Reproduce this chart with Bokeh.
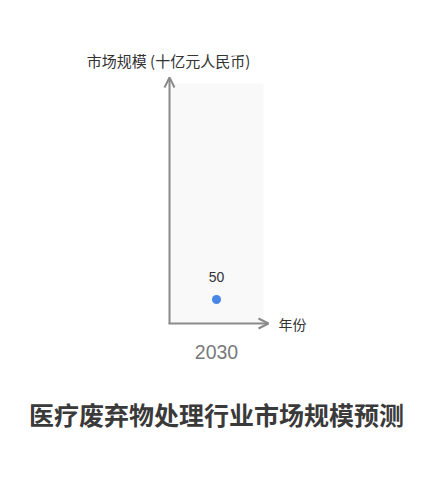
from bokeh.core.properties import value
from bokeh.embed import file_html
from bokeh.models import Arrow, ColumnDataSource, FixedTicker, OpenHead, Title
from bokeh.plotting import figure
from bokeh.resources import INLINE

# data
years = [2030]
market_size = [50]          # 十亿元人民币
year_labels = {2030: "2030"}
y_max = 500

title_text = "医疗废弃物处理行业市场规模预测"
y_title = "市场规模 (十亿元人民币)"
x_title = "年份"

CJK = "Noto Sans CJK SC"
LATIN = "Liberation Sans"
AXIS_COLOR = "#8a8a8a"

x0, x1 = years[0] - 0.5, years[-1] + 0.5
px_x = 94.0 / (x1 - x0)          # pixels per year
px_y = 240.0 / y_max             # pixels per unit

p = figure(width=432, height=480, output_backend="svg", toolbar_location=None,
           x_range=(years[0] - 216 / px_x, years[0] + 216 / px_x),
           y_range=(-17 / px_y, 323 / px_y),
           min_border_left=0, min_border_right=0, min_border_top=0, min_border_bottom=140)
p.outline_line_color = None
p.grid.visible = False
p.yaxis.visible = False
p.background_fill_color = "white"

xa = p.xaxis[0]
xa.ticker = FixedTicker(ticks=years)
xa.major_label_overrides = year_labels
xa.axis_line_color = None
xa.major_tick_line_color = None
xa.minor_tick_line_color = None
xa.major_tick_out = 0
xa.major_label_standoff = 4
xa.major_label_text_font = LATIN
xa.major_label_text_font_size = "19.5px"
xa.major_label_text_color = "#7a7a7a"

# plot area band
p.quad(left=[x0], right=[x1], bottom=[0], top=[y_max], fill_color="#f9f9f9", line_color=None)

# axes with arrows
p.add_layout(Arrow(x_start=x0, y_start=0, x_end=x0, y_end=y_max + 6 / px_y,
                   line_color=AXIS_COLOR, line_width=2,
                   end=OpenHead(size=10, line_color=AXIS_COLOR, line_width=2)))
p.add_layout(Arrow(x_start=x0 - 1 / px_x, y_start=0, x_end=x1 + 5 / px_x, y_end=0,
                   line_color=AXIS_COLOR, line_width=2,
                   end=OpenHead(size=10, line_color=AXIS_COLOR, line_width=2)))

src = ColumnDataSource(data=dict(year=years, size=market_size,
                                 label=[str(v) for v in market_size]))
p.scatter(x="year", y="size", source=src, size=9, fill_color="#4a86e8", line_color=None)
p.text(x="year", y="size", text="label", source=src, y_offset=-23,
       text_align="center", text_baseline="middle", text_font=value(LATIN),
       text_font_size="14px", text_color="#333333")

# axis titles
p.text(x=[x0 - 1 / px_x], y=[263 / px_y], text=[y_title], text_align="center",
       text_baseline="middle", text_font=value(CJK), text_font_size="15px",
       text_color="#333333")
p.text(x=[x1 + 15 / px_x], y=[0], text=[x_title], text_align="left",
       text_baseline="middle", text_font=value(CJK), text_font_size="14px",
       text_color="#333333")

p.add_layout(Title(text=title_text, align="center", text_font=CJK,
                   text_font_size="25px", text_font_style="bold",
                   text_color="#3a3a3a", standoff=65), "below")

open("out.html", "w").write(file_html(p, INLINE))
